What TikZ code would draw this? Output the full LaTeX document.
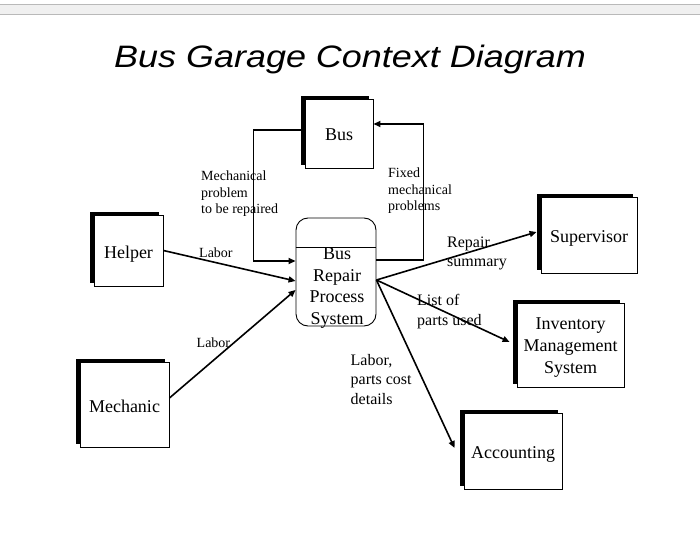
\documentclass[tikz,border=0pt]{standalone}
\usepackage{fontspec}
\setmainfont{Liberation Serif}
\newfontfamily\titlefont{Liberation Sans}
\usetikzlibrary{arrows.meta,shadows}
\begin{document}
\begin{tikzpicture}[x=1pt,y=-1pt,
  ent/.style={draw, fill=white, line width=0.9pt, inner sep=0pt, align=center,
    font=\fontsize{18}{22}\selectfont, text height=15pt, text depth=0pt,
    drop shadow={fill=black, opacity=1, shadow xshift=-4pt, shadow yshift=3pt}},
  procbox/.style={draw, fill=white, line width=0.9pt, rounded corners=12pt, inner sep=0pt,
    minimum width=80pt, minimum height=108pt},
  arr/.style={line width=1.6pt, -{Triangle[length=7pt,width=6pt]}},
  lbl/.style={anchor=base west, inner sep=0pt, align=left, font=\fontsize{14}{16.5}\selectfont},
  lblb/.style={anchor=base west, inner sep=0pt, align=left, font=\fontsize{16}{19.5}\selectfont}]
\useasboundingbox (0,0) rectangle (700,537);
\fill[white] (0,0) rectangle (700,537);
% top bar
\draw[gray!55, fill=gray!12, line width=0.8pt] (-2,4) rectangle (702,14.5);
% title
\node[anchor=base, inner sep=0pt, font=\titlefont\itshape\fontsize{31}{36}\selectfont] (title) at (350,68) {\scalebox{1.16}[1]{Bus Garage Context Diagram}};
% entities
\node[ent, minimum width=68pt, minimum height=69pt] (bus) at (339,133.5) {Bus};
\node[ent, minimum width=69pt, minimum height=71pt] (helper) at (128.5,250.5) {Helper};
\node[ent, minimum width=89pt, minimum height=85pt] (mech) at (124.5,404.5) {Mechanic};
\node[ent, minimum width=96pt, minimum height=76pt] (sup) at (589,235) {Supervisor};
\node[ent, minimum width=107pt, minimum height=84pt, text height=56pt, text depth=0pt] (inv) at (570.5,345) {Inventory\\Management\\System};
\node[ent, minimum width=98pt, minimum height=76pt] (acct) at (513,451) {Accounting};
% process
\node[procbox] (proc) at (336,272) {};
\draw[line width=0.8pt] ([yshift=25pt]proc.west) -- ([yshift=25pt]proc.east);
\node[inner sep=0pt, align=center, font=\fontsize{18}{21.7}\selectfont] (proctext) at (337,288) {Bus\\Repair\\Process\\System};
% connectors
\draw[arr] ([xshift=-4pt,yshift=3.5pt]bus.west) -| ([xshift=-42pt,yshift=11pt]proc.west) -- ([yshift=11pt]proc.west);
\draw[arr] ([yshift=12pt]proc.east) -| ([xshift=50pt,yshift=9.5pt]bus.east) -- ([yshift=9.5pt]bus.east);
\draw[arr] (helper.east) -- ([yshift=-9pt]proc.west);
\draw[arr] ([yshift=6.5pt]mech.east) -- ([yshift=-18pt]proc.west);
\draw[arr] ([yshift=-8pt]proc.east) -- ([xshift=-4pt,yshift=3pt]sup.west);
\draw[arr] ([yshift=-8pt]proc.east) -- ([xshift=-7pt,yshift=3pt]inv.west);
\draw[arr] ([yshift=-8pt]proc.east) -- ([xshift=-9pt,yshift=3pt]acct.west);
% labels (base anchor = baseline of last line)
\node[lbl] (l1) at (201,214) {Mechanical\\problem\\to be repaired};
\node[lbl] (l2) at (388,211) {Fixed\\mechanical\\problems};
\node[lbl] (l3) at (199,257.5) {Labor};
\node[lbl] (l4) at (196.5,347.5) {Labor};
\node[lblb] (l5) at (447,266.5) {Repair\\summary};
\node[lblb] (l6) at (417,325) {List of\\parts used};
\node[lblb] (l7) at (350.5,404) {Labor,\\parts cost\\details};
\end{tikzpicture}
\end{document}
